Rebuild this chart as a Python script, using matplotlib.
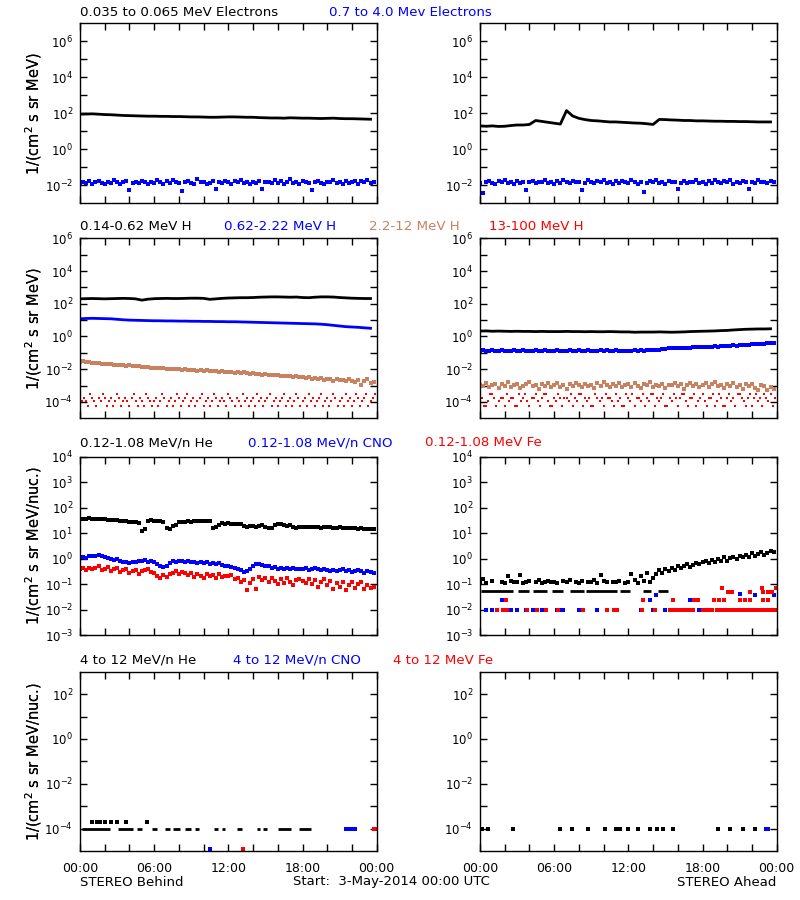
import matplotlib
matplotlib.use('Agg')

import matplotlib.pyplot as plt
from matplotlib.ticker import NullFormatter
import numpy as np

nan = np.nan

BLACK = "#000000"
BLUE = "#0000ff"
TAN = "#c88260"
RED = "#ff0000"

# ---------------------------------------------------------------------------
# data, log10 of flux, samples spread evenly over 3-May-2014 (00:00 - 24:00)
# ---------------------------------------------------------------------------

# row 1: electrons
E_LO_BEHIND = [1.95, 1.96, 1.97, 1.95, 1.93, 1.92, 1.90, 1.88, 1.87, 1.86, 1.85, 1.84,
               1.84, 1.83, 1.83, 1.82, 1.82, 1.81, 1.80, 1.80, 1.79, 1.78, 1.78, 1.79,
               1.80, 1.80, 1.79, 1.78, 1.78, 1.76, 1.75, 1.74, 1.74, 1.73, 1.75, 1.74,
               1.73, 1.73, 1.72, 1.71, 1.72, 1.73, 1.71, 1.70, 1.70, 1.69, 1.68, 1.67]
E_HI_BEHIND = [-1.95, -1.80, -1.85, -1.78, -1.90, -1.83, -1.75, -1.88, -1.92, -1.80, -1.86, -1.70,
               -1.84, -1.95, -1.81, -1.77, -2.25, -1.86, -1.80, -1.89, -1.74, -1.83, -1.90, -1.79,
               -1.85, -1.68, -1.82, -1.94, -1.78, -1.87, -1.72, -1.81, -1.88, -2.30, -1.80, -1.76,
               -1.86, -1.90, -1.65, -1.83, -1.79, -1.92, -1.85, -1.74, -2.20, -1.81, -1.87, -1.78,
               -1.84, -1.91, -1.76, -1.82, -1.70, -1.88, -1.83, -1.93, -1.79, -1.86, -1.75, -2.22,
               -1.84, -1.80, -1.89, -1.73, -1.85, -1.78, -1.90, -1.82, -1.66, -1.87, -1.80, -1.94,
               -1.77, -1.84, -1.88, -2.25, -1.81, -1.75, -1.86, -1.92, -1.79, -1.83, -1.70, -1.88,
               -1.80, -1.95, -1.77, -1.85, -1.82, -1.74, -1.90, -1.78, -1.84, -1.68, -1.86, -1.80]
E_LO_AHEAD = [1.30, 1.28, 1.30, 1.27, 1.28, 1.32, 1.35, 1.35, 1.38, 1.60, 1.55, 1.50,
              1.45, 1.40, 2.15, 1.85, 1.72, 1.65, 1.60, 1.58, 1.55, 1.52, 1.52, 1.50,
              1.48, 1.46, 1.45, 1.42, 1.38, 1.66, 1.65, 1.63, 1.62, 1.60, 1.60, 1.58,
              1.58, 1.57, 1.56, 1.56, 1.55, 1.55, 1.54, 1.54, 1.53, 1.52, 1.52, 1.52]
E_HI_AHEAD = [-1.88, -2.40, -1.82, -1.76, -1.85, -1.90, -1.78, -1.84, -1.70, -1.88, -1.81, -1.93,
              -1.76, -1.86, -1.80, -2.28, -1.84, -1.74, -1.89, -1.79, -1.83, -1.72, -1.87, -1.80,
              -1.91, -1.78, -1.85, -1.69, -1.82, -1.88, -1.76, -1.84, -1.79, -2.25, -1.86, -1.73,
              -1.81, -1.89, -1.77, -1.83, -1.70, -1.87, -1.80, -1.92, -1.75, -1.85, -1.78, -1.84,
              -1.88, -1.72, -1.82, -1.90, -1.79, -2.35, -1.85, -1.76, -1.83, -1.68, -1.87, -1.81,
              -1.93, -1.77, -1.84, -1.80, -2.20, -1.86, -1.74, -1.89, -1.79, -1.83, -1.71, -1.88,
              -1.80, -1.92, -1.76, -1.85, -1.69, -1.83, -1.88, -1.78, -1.84, -1.73, -1.90, -1.81,
              -1.86, -1.75, -1.82, -2.22, -1.79, -1.87, -1.70, -1.84, -1.80, -1.89, -1.77, -1.83]

# row 2: protons
H1_BEHIND = [2.30, 2.31, 2.32, 2.31, 2.30, 2.31, 2.32, 2.33, 2.32, 2.30, 2.22, 2.28,
             2.31, 2.32, 2.33, 2.32, 2.32, 2.33, 2.34, 2.34, 2.33, 2.27, 2.30, 2.33,
             2.35, 2.36, 2.37, 2.37, 2.38, 2.40, 2.41, 2.42, 2.42, 2.41, 2.40, 2.41,
             2.38, 2.37, 2.40, 2.42, 2.42, 2.41, 2.38, 2.36, 2.34, 2.33, 2.32, 2.32]
H2_BEHIND = [1.08, 1.10, 1.11, 1.10, 1.09, 1.08, 1.05, 1.02, 1.00, 0.99, 0.98, 0.97,
             0.96, 0.96, 0.95, 0.95, 0.94, 0.94, 0.93, 0.93, 0.92, 0.92, 0.91, 0.91,
             0.90, 0.90, 0.89, 0.88, 0.87, 0.86, 0.85, 0.84, 0.83, 0.82, 0.81, 0.80,
             0.79, 0.78, 0.77, 0.75, 0.72, 0.68, 0.64, 0.60, 0.58, 0.56, 0.53, 0.50]
H3_BEHIND = [-1.54, -1.52, -1.57, -1.58, -1.60, -1.62, -1.61, -1.66, -1.68, -1.70, -1.69, -1.73,
             -1.74, -1.72, -1.77, -1.78, -1.76, -1.80, -1.82, -1.81, -1.84, -1.86, -1.85, -1.90,
             -1.91, -1.93, -1.95, -1.92, -1.97, -1.99, -1.96, -2.01, -2.00, -2.03, -1.98, -2.04,
             -2.06, -2.03, -2.08, -2.07, -2.10, -2.06, -2.12, -2.11, -2.09, -2.15, -2.14, -2.17,
             -2.18, -2.15, -2.21, -2.20, -2.24, -2.19, -2.26, -2.27, -2.24, -2.30, -2.29, -2.33,
             -2.28, -2.35, -2.34, -2.38, -2.36, -2.40, -2.42, -2.39, -2.44, -2.47, -2.43, -2.50,
             -2.48, -2.53, -2.45, -2.58, -2.52, -2.60, -2.55, -2.66, -2.57, -2.62, -2.70, -2.59,
             -2.68, -2.64, -2.75, -2.61, -2.72, -2.80, -2.66, -2.95, -2.74, -2.62, -2.85, -2.78]
H4_BEHIND = [-4.25, -3.94, -3.78, -3.94, -4.25, -3.51, -3.78, -3.94, -4.25, -3.78, -3.94, -3.51,
             -3.78, -4.25, -3.94, -3.78, -4.25, -3.94, -3.51, -3.78, -4.25, -3.94, -3.78, -3.94,
             -4.25, -3.78, -3.51, -3.94, -4.25, -3.78, -3.94, -4.25, -3.51, -3.78, -3.94, -4.25,
             -3.94, -3.78, -4.25, -3.94, -3.51, -3.78, -4.25, -3.94, -3.78, -4.25, -3.94, -3.51,
             -3.78, -4.25, -3.94, -3.78, -3.51, -4.25, -3.94, -3.78, -4.25, -3.94, -3.78, -3.51,
             -4.25, -3.94, -3.78, -4.25, -3.94, -3.51, -3.78, -4.25, -3.94, -3.78, -3.94, -4.25,
             -3.51, -3.78, -3.94, -4.25, -3.78, -3.94, -4.25, -3.51, -3.94, -3.78, -4.25, -3.94,
             -3.78, -4.25, -3.51, -3.94, -3.78, -4.25, -3.94, -3.78, -3.51, -4.25, -3.94, -3.78,
             -4.25, -3.94, -3.78, -3.51, -4.25, -3.94, -3.78, -4.25, -3.94, -3.51, -3.78, -4.25,
             -3.94, -3.78, -4.25, -3.51, -3.94, -3.78, -4.25, -3.94, -3.78, -3.51, -4.25, -3.94,
             -3.78, -4.25, -3.94, -3.51, -3.78, -4.25, -3.94, -3.78, -4.25, -3.51, -3.94, -3.78,
             -4.25, -3.94, -3.51, -3.78, -4.25, -3.94, -3.78, -3.51, -4.25, -3.94, -3.78, -3.51]

H1_AHEAD = [0.33, 0.34, 0.32, 0.33, 0.32, 0.31, 0.32, 0.31, 0.31, 0.30, 0.31, 0.30,
            0.30, 0.30, 0.31, 0.30, 0.30, 0.29, 0.30, 0.29, 0.29, 0.30, 0.29, 0.28,
            0.28, 0.26, 0.27, 0.27, 0.27, 0.28, 0.27, 0.26, 0.27, 0.28, 0.30, 0.31,
            0.32, 0.33, 0.34, 0.36, 0.37, 0.40, 0.42, 0.44, 0.45, 0.46, 0.46, 0.47]
H2_AHEAD = [-0.88, -0.85, -0.90, -0.86, -0.84, -0.89, -0.87, -0.85, -0.88, -0.91, -0.86, -0.84,
            -0.89, -0.87, -0.85, -0.90, -0.88, -0.86, -0.84, -0.88, -0.87, -0.82, -0.86, -0.89,
            -0.87, -0.85, -0.88, -0.90, -0.86, -0.84, -0.87, -0.89, -0.85, -0.86, -0.88, -0.84,
            -0.87, -0.86, -0.89, -0.85, -0.87, -0.84, -0.86, -0.88, -0.85, -0.87, -0.86, -0.90,
            -0.88, -0.86, -0.85, -0.87, -0.84, -0.86, -0.85, -0.83, -0.85, -0.84, -0.82, -0.78,
            -0.74, -0.72, -0.73, -0.71, -0.70, -0.72, -0.69, -0.68, -0.70, -0.67, -0.66, -0.65,
            -0.64, -0.66, -0.63, -0.62, -0.60, -0.62, -0.59, -0.58, -0.57, -0.59, -0.55, -0.56,
            -0.53, -0.52, -0.50, -0.51, -0.48, -0.46, -0.45, -0.43, -0.44, -0.42, -0.40, -0.41]
H3_AHEAD = [-2.95, -3.05, -2.85, -3.10, -2.98, -2.90, -3.15, -2.92, -3.02, -2.80, -3.08, -2.96,
            -2.88, -3.12, -3.00, -2.93, -2.78, -3.05, -2.97, -3.20, -2.90, -3.01, -2.86, -3.10,
            -2.99, -2.84, -3.06, -2.95, -3.18, -2.91, -3.03, -2.82, -2.97, -3.09, -2.89, -3.00,
            -2.94, -3.14, -2.87, -3.04, -2.79, -2.98, -3.11, -2.92, -3.02, -2.85, -3.07, -2.96,
            -2.90, -3.06, -2.83, -3.00, -3.16, -2.93, -2.97, -2.81, -3.08, -2.95, -3.02, -2.88,
            -3.12, -2.94, -2.99, -2.86, -3.05, -2.92, -3.18, -2.96, -2.84, -3.03, -2.91, -3.07,
            -2.98, -2.87, -3.10, -2.93, -2.76, -3.04, -2.97, -3.15, -2.90, -3.01, -2.85, -3.08,
            -2.95, -3.20, -2.92, -3.02, -2.88, -3.12, -3.25, -2.98, -3.05, -3.30, -3.10, -3.22]
H4_AHEAD = [-3.51, -3.78, -4.25, -4.25, -3.94, -3.51, -3.51, -3.78, -4.25, -3.94, -3.78, -3.78,
            -4.25, -3.51, -3.94, -3.78, -3.78, -4.25, -4.25, -3.51, -3.94, -3.78, -3.51, -3.94,
            -4.25, -3.78, -3.78, -3.51, -3.94, -4.25, -3.78, -3.51, -3.51, -3.94, -4.25, -4.25,
            -3.78, -3.94, -3.51, -3.78, -4.25, -3.78, -3.78, -3.94, -3.51, -4.25, -3.78, -3.94,
            -3.51, -3.51, -4.25, -3.78, -3.94, -3.78, -4.25, -4.25, -3.51, -3.78, -3.94, -3.78,
            -4.25, -3.51, -3.78, -3.78, -3.94, -4.25, -3.51, -3.94, -3.78, -4.25, -4.25, -3.51,
            -3.78, -3.94, -3.51, -4.25, -3.78, -3.78, -3.94, -3.51, -4.25, -3.78, -3.94, -3.51,
            -3.51, -4.25, -3.78, -3.94, -3.78, -3.51, -4.25, -4.25, -3.78, -3.94, -3.51, -3.78,
            -4.25, -3.78, -3.51, -3.51, -3.94, -4.25, -3.78, -3.78, -3.51, -4.25, -3.94, -3.78,
            -3.51, -3.94, -4.25, -3.78, -3.78, -3.51, -4.25, -3.94, -3.51, -3.78, -4.25, -4.25,
            -3.78, -3.51, -3.94, -3.78, -4.25, -3.51, -3.51, -3.78, -3.94, -4.25, -3.78, -3.51,
            -4.25, -3.78, -3.51, -3.94, -3.78, -4.25, -3.51, -3.78, -3.94, -3.51, -4.25, -3.78]

# row 3: 0.12-1.08 MeV/n heavy ions
HE_BEHIND = [1.55, 1.57, 1.56, 1.58, 1.57, 1.55, 1.57, 1.56, 1.54, 1.52, 1.53, 1.51,
             1.50, 1.49, 1.47, 1.48, 1.45, 1.44, 1.42, 1.40, 1.10, 1.15, 1.48, 1.50,
             1.48, 1.47, 1.46, 1.45, 1.20, 1.18, 1.26, 1.30, 1.44, 1.45, 1.44, 1.46,
             1.45, 1.46, 1.47, 1.46, 1.47, 1.48, 1.46, 1.22, 1.25, 1.32, 1.38, 1.37,
             1.38, 1.36, 1.37, 1.36, 1.37, 1.28, 1.25, 1.26, 1.27, 1.24, 1.28, 1.30,
             1.25, 1.22, 1.22, 1.30, 1.36, 1.34, 1.32, 1.28, 1.30, 1.24, 1.22, 1.25,
             1.25, 1.24, 1.24, 1.23, 1.25, 1.24, 1.22, 1.24, 1.23, 1.25, 1.22, 1.21,
             1.23, 1.22, 1.20, 1.21, 1.19, 1.20, 1.18, 1.19, 1.18, 1.17, 1.18, 1.17]
CNO_BEHIND = [0.05, 0.08, 0.04, 0.10, 0.12, 0.09, 0.14, 0.11, 0.08, 0.02, -0.02, -0.05,
              0.00, -0.08, -0.12, -0.15, -0.18, -0.12, -0.14, -0.08, -0.10, -0.06, -0.12, -0.10,
              -0.15, -0.20, -0.28, -0.34, -0.30, -0.18, -0.10, -0.12, -0.08, -0.11, -0.14, -0.10,
              -0.13, -0.12, -0.16, -0.14, -0.18, -0.15, -0.20, -0.17, -0.22, -0.19, -0.24, -0.30,
              -0.28, -0.32, -0.35, -0.40, -0.45, -0.52, -0.48, -0.40, -0.30, -0.22, -0.20, -0.24,
              -0.28, -0.30, -0.36, -0.34, -0.40, -0.38, -0.42, -0.37, -0.40, -0.36, -0.42, -0.39,
              -0.41, -0.38, -0.44, -0.40, -0.37, -0.42, -0.45, -0.40, -0.43, -0.48, -0.44, -0.50,
              -0.46, -0.42, -0.48, -0.45, -0.52, -0.47, -0.44, -0.50, -0.55, -0.49, -0.52, -0.58]
FE_BEHIND = [-0.40, -0.35, -0.45, -0.38, -0.42, -0.36, -0.30, -0.44, -0.39, -0.33, -0.48, -0.41,
             -0.37, -0.52, -0.45, -0.40, -0.55, -0.47, -0.43, -0.60, -0.50, -0.46, -0.42, -0.54,
             -0.58, -0.70, -0.78, -0.65, -0.72, -0.60, -0.55, -0.48, -0.62, -0.52, -0.58, -0.66,
             -0.56, -0.72, -0.60, -0.68, -0.75, -0.62, -0.70, -0.64, -0.78, -0.60, -0.72, -0.68,
             -0.70, -0.65, -0.82, -0.78, -0.90, -0.85, -1.25, -0.95, -0.80, -1.20, -0.72, -0.85,
             -0.78, -0.92, -0.75, -0.88, -1.00, -0.82, -0.95, -0.78, -0.90, -1.05, -0.85, -0.80,
             -0.88, -0.95, -0.80, -1.00, -0.85, -1.10, -0.92, -0.82, -1.05, -0.88, -1.20, -0.95,
             -1.10, -0.90, -1.25, -1.05, -0.92, -1.15, -1.00, -0.90, -1.20, -1.05, -1.15, -1.10]

HE_AHEAD = [-0.90, -0.82, -0.95, nan, -0.88, nan, nan, -0.92, -0.95, -0.70, -0.88, -0.90,
            -0.92, -0.65, -0.95, -0.90, -0.88, nan, -0.93, -0.85, -0.95, -0.90, -0.88, -0.93,
            -0.90, -0.95, nan, -0.88, -0.92, -0.85, nan, -0.93, -0.95, -0.88, nan, -0.92,
            -0.90, -0.85, -0.95, -0.65, -0.88, -0.92, nan, -0.90, -0.93, -0.88, nan, -0.95,
            -0.90, -0.60, -0.85, -0.95, -0.70, -0.88, -0.55, -0.90, -0.75, -0.60, -0.45, -0.55,
            -0.40, -0.50, -0.38, -0.45, -0.30, -0.35, -0.28, -0.20, -0.32, -0.25, -0.18, -0.22,
            -0.15, -0.10, -0.18, -0.05, -0.12, 0.00, -0.08, 0.05, -0.10, 0.02, 0.08, 0.00,
            0.10, 0.05, 0.15, 0.08, 0.20, 0.12, 0.18, 0.25, 0.15, 0.22, 0.30, 0.25]
# lowest He count level (0.053) seen as runs, start/end hour
HE_AHEAD_LOW_LEVEL = -1.28
HE_AHEAD_LOW_RUNS = [(0.1, 2.7), (3.1, 4.0), (4.3, 5.4), (5.8, 6.7), (7.3, 8.4),
                     (8.6, 11.1), (11.3, 12.1), (13.2, 13.8), (14.4, 15.2)]
CNO_AHEAD_T = [0.5, 1.0, 1.75, 2.0, 2.25, 2.5, 3.0, 3.75, 4.25, 4.5,
               5.0, 6.25, 6.5, 6.75, 8.0, 9.5, 13.0, 13.75, 14.0, 14.25,
               15.0, 16.25, 16.75, 17.0, 17.5, 17.75, 18.0, 18.25, 18.5, 18.75,
               19.5, 19.75, 20.0, 20.25, 20.5, 20.75, 21.0, 21.25, 21.5, 21.75,
               22.25, 22.5, 23.0, 23.25, 23.5, 23.75]
CNO_AHEAD_V = [-2.0, -2.0, -1.63, -2.0, -2.0, -2.0, -2.0, -2.0, -2.0, -2.0,
               -2.0, -2.0, -2.0, -2.0, -2.0, -2.0, -2.0, -1.63, -2.0, -1.43,
               -2.0, -2.0, -2.0, -1.63, -1.63, -2.0, -2.0, -2.0, -2.0, -2.0,
               -2.0, -2.0, -2.0, -2.0, -2.0, -2.0, -1.40, -2.0, -2.0, -2.0,
               -1.43, -2.0, -2.0, -2.0, -2.0, -1.43]
FE_AHEAD_T = [1.35, 1.83, 2.1, 2.16, 3.78, 4.58, 5.34, 6.28, 8.36, 10.25,
              10.8, 11.06, 13.13, 13.2, 14.16, 15.37, 15.6, 15.6, 15.85, 16.1,
              16.45, 16.7, 16.95, 17.2, 17.3, 17.6, 18.07, 18.3, 18.55, 18.8,
              18.9, 19.15, 19.3, 19.4, 19.55, 19.65, 19.7, 19.9, 20.1, 20.15,
              20.35, 20.4, 20.65, 20.9, 21.0, 21.15, 21.4, 21.4, 21.65, 21.8,
              21.85, 21.9, 22.15, 22.4, 22.65, 22.8, 22.9, 22.9, 22.9, 23.15,
              23.3, 23.3, 23.4, 23.6, 23.65, 23.9, 23.95]
FE_AHEAD_V = [-2.0, -2.0, -1.63, -2.0, -2.0, -2.0, -2.0, -2.0, -2.0, -2.0,
              -2.0, -2.0, -2.0, -1.63, -2.0, -2.0, -2.0, -1.63, -2.0, -2.0,
              -2.0, -2.0, -2.0, -2.0, -1.63, -1.63, -2.0, -2.0, -2.0, -2.0,
              -1.63, -2.0, -1.63, -2.0, -1.17, -2.0, -1.63, -2.0, -1.30, -2.0,
              -1.30, -2.0, -2.0, -2.0, -1.63, -2.0, -2.0, -1.63, -2.0, -1.63,
              -1.30, -2.0, -2.0, -2.0, -2.0, -1.17, -2.0, -1.63, -1.30, -2.0,
              -1.63, -1.30, -2.0, -1.30, -2.0, -2.0, -1.17]

# row 4: 4-12 MeV/n heavy ions (single counts only)
HE4_BEHIND_LEVEL = -4.0
HE4_BEHIND_RUNS = [(0.13, 2.43), (3.1, 4.3), (4.58, 4.99), (5.8, 6.2), (6.9, 7.3),
                   (7.55, 8.1), (8.5, 9.0), (9.3, 9.6), (10.8, 11.2), (11.5, 11.7),
                   (12.7, 13.1), (14.3, 14.6), (14.8, 15.1), (16.05, 17.1), (17.7, 18.7)]
HE4_BEHIND_T = [0.94, 1.35, 1.62, 2.02, 2.48, 2.97, 3.72, 5.39]
HE4_BEHIND_V = [-3.71, -3.71, -3.71, -3.71, -3.71, -3.71, -3.71, -3.71]
CNO4_BEHIND_T = [10.5, 21.5, 21.75, 22.0, 22.25]
CNO4_BEHIND_V = [-4.89, -4.0, -4.0, -4.0, -4.0]
FE4_BEHIND_T = [13.2, 23.8, 23.95]
FE4_BEHIND_V = [-4.89, -4.0, -4.0]
HE4_AHEAD_T = [0.13, 0.67, 2.70, 6.47, 7.42, 8.77, 10.11, 11.0, 11.3, 11.98,
               12.78, 13.75, 14.29, 14.83, 15.64, 19.28, 20.23, 21.31, 22.25]
HE4_AHEAD_V = [-4.0, -4.0, -4.0, -4.0, -4.0, -4.0, -4.0, -4.0, -4.0, -4.0,
               -4.0, -4.0, -4.0, -4.0, -4.0, -4.0, -4.0, -4.0, -4.0]
CNO4_AHEAD_T = [23.15, 23.3]
CNO4_AHEAD_V = [-4.0, -4.0]

TIME_TICKS = [0, 6, 12, 18, 24]
TIME_LABELS = ["00:00", "06:00", "12:00", "18:00", "00:00"]

ROW_TITLES = [
    [("0.035 to 0.065 MeV Electrons", BLACK, 80), ("0.7 to 4.0 Mev Electrons", BLUE, 329)],
    [("0.14-0.62 MeV H", BLACK, 80), ("0.62-2.22 MeV H", BLUE, 224),
     ("2.2-12 MeV H", TAN, 369), ("13-100 MeV H", RED, 489)],
    [("0.12-1.08 MeV/n He", BLACK, 80), ("0.12-1.08 MeV/n CNO", BLUE, 248),
     ("0.12-1.08 MeV Fe", RED, 425)],
    [("4 to 12 MeV/n He", BLACK, 80), ("4 to 12 MeV/n CNO", BLUE, 233),
     ("4 to 12 MeV Fe", RED, 393)],
]
ROW_TITLE_Y = [13, 227, 443, 660]

# panel boxes in pixels: top, bottom
ROW_BOX = [(23.3, 203.3), (238.3, 418.3), (456.7, 635.0), (671.7, 851.0)]
COL_X = [80.0, 480.0]
PANEL_W = 296.7
# y range, labelled exponents, minor exponents, ylabel
ROW_AXIS = [
    (-3, 7, [-2, 0, 2, 4, 6], [-1, 1, 3, 5], "1/(cm$^2$ s sr MeV)"),
    (-5, 6, [-4, -2, 0, 2, 4, 6], [-3, -1, 1, 3, 5], "1/(cm$^2$ s sr MeV)"),
    (-3, 4, [-3, -2, -1, 0, 1, 2, 3, 4], [], "1/(cm$^2$ s sr MeV/nuc.)"),
    (-5, 3, [-4, -2, 0, 2], [-3, -1, 1], "1/(cm$^2$ s sr MeV/nuc.)"),
]

W, H = 800, 900


def hours(vals):
    return np.arange(len(vals)) * 24.0 / len(vals)


def flux(vals):
    return 10.0 ** np.array(vals, dtype=float)


def line(ax, vals, color):
    ax.plot(hours(vals), flux(vals), "-", color=color, lw=2.0)


def dots(ax, vals, color, t=None, ms=2.2):
    if t is None:
        t = hours(vals)
    ax.plot(t, flux(vals), "s", color=color, ms=ms, mew=0, ls="none")


def runs(ax, spans, level, color):
    for a, b in spans:
        ax.hlines(10.0 ** level, a, b, color=color, lw=2.0)


def make_panel(fig, row, col):
    top, bot = ROW_BOX[row]
    ax = fig.add_axes([COL_X[col] / W, 1 - bot / H, PANEL_W / W, (bot - top) / H])
    lo, hi, major, minor, ylab = ROW_AXIS[row]
    ax.set_yscale("log")
    ax.set_ylim(10.0 ** lo, 10.0 ** hi)
    ax.set_yticks([10.0 ** e for e in major])
    ax.set_yticklabels(["10$^{%d}$" % e for e in major])
    ax.set_yticks([10.0 ** e for e in minor], minor=True)
    ax.yaxis.set_minor_formatter(NullFormatter())
    ax.set_xlim(0, 24)
    ax.set_xticks(TIME_TICKS)
    ax.set_xticks(np.arange(2, 24, 2), minor=True)
    if row == 3:
        ax.set_xticklabels(TIME_LABELS)
    else:
        ax.set_xticklabels([])
    ax.tick_params(which="both", direction="in", length=5, width=1.0,
                   top=True, right=True, labelsize=8.5, pad=5)
    ax.tick_params(axis="x", labelsize=9, pad=8)
    for s in ax.spines.values():
        s.set_linewidth(1.0)
    fig.text(34 / W, 1 - (top + bot) / 2 / H, ylab, rotation=90,
             ha="center", va="center", fontsize=10.5)
    return ax


fig = plt.figure(figsize=(8, 9), dpi=100)
fig.patch.set_facecolor("white")

axes = [[make_panel(fig, r, c) for c in range(2)] for r in range(4)]

# row 1
ax = axes[0][0]
line(ax, E_LO_BEHIND, BLACK)
dots(ax, E_HI_BEHIND, BLUE)
ax = axes[0][1]
line(ax, E_LO_AHEAD, BLACK)
dots(ax, E_HI_AHEAD, BLUE)

# row 2
ax = axes[1][0]
line(ax, H1_BEHIND, BLACK)
line(ax, H2_BEHIND, BLUE)
dots(ax, H3_BEHIND, TAN, ms=2.6)
dots(ax, H4_BEHIND, RED, ms=2.0)
ax = axes[1][1]
line(ax, H1_AHEAD, BLACK)
dots(ax, H2_AHEAD, BLUE, ms=2.6)
dots(ax, H3_AHEAD, TAN, ms=2.6)
dots(ax, H4_AHEAD, RED, ms=2.0)

# row 3
ax = axes[2][0]
dots(ax, HE_BEHIND, BLACK, ms=2.4)
dots(ax, CNO_BEHIND, BLUE, ms=2.4)
dots(ax, FE_BEHIND, RED, ms=2.4)
ax = axes[2][1]
dots(ax, HE_AHEAD, BLACK, ms=2.4)
runs(ax, HE_AHEAD_LOW_RUNS, HE_AHEAD_LOW_LEVEL, BLACK)
dots(ax, CNO_AHEAD_V, BLUE, t=CNO_AHEAD_T, ms=2.4)
dots(ax, FE_AHEAD_V, RED, t=FE_AHEAD_T, ms=2.4)

# row 4
ax = axes[3][0]
runs(ax, HE4_BEHIND_RUNS, HE4_BEHIND_LEVEL, BLACK)
dots(ax, HE4_BEHIND_V, BLACK, t=HE4_BEHIND_T)
dots(ax, CNO4_BEHIND_V, BLUE, t=CNO4_BEHIND_T)
dots(ax, FE4_BEHIND_V, RED, t=FE4_BEHIND_T)
ax = axes[3][1]
dots(ax, HE4_AHEAD_V, BLACK, t=HE4_AHEAD_T)
dots(ax, CNO4_AHEAD_V, BLUE, t=CNO4_AHEAD_T)

# row titles
for titles, y in zip(ROW_TITLES, ROW_TITLE_Y):
    for text, color, x in titles:
        fig.text(x / W, 1 - y / H, text, color=color, fontsize=9.6,
                 ha="left", va="center")

fig.text(80 / W, 1 - 882 / H, "STEREO Behind", fontsize=9.5, ha="left", va="center")
fig.text(293 / W, 1 - 882 / H, "Start:  3-May-2014 00:00 UTC", fontsize=9.5,
         ha="left", va="center")
fig.text(776 / W, 1 - 882 / H, "STEREO Ahead", fontsize=9.5, ha="right", va="center")

fig.savefig("out.png", dpi=100, facecolor="white")
